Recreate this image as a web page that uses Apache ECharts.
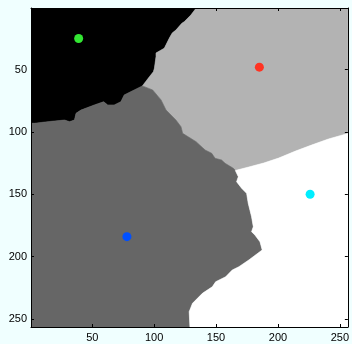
<!DOCTYPE html>
<html><head><meta charset="utf-8">
<script src="https://cdn.jsdelivr.net/npm/echarts@6/dist/echarts.min.js"></script>
<style>html,body{margin:0;padding:0;background:#f0ffff;}#c{width:352px;height:344px;}</style>
</head><body><div id="c"></div>
<script>
// Axis ticks
var xTicks = [50, 100, 150, 200, 250];
var yTicks = [50, 100, 150, 200, 250];

// Boundaries between segmented regions (image x, image y)
var blackLightBoundary = [[134,0.5],[129.7,6.1],[124.3,11.5],[122.4,12.8],[117.6,18.2],[114.6,20.6],[112.2,24.8],[108.2,32.8],[101.5,36.6],[101.5,39.6],[100.2,48.9],[99.4,51.6],[96.2,55.6],[90.5,63]];
var blackDarkBoundary = [[90.5,63],[83.9,66.3],[75.8,70.3],[73.1,75.7],[67.8,78.3],[62.4,78.3],[59.2,75.7],[51.7,78.3],[40.9,82.4],[36.9,85],[35.6,90.4],[31.6,91.7],[27.6,90.4],[14.2,91.7],[3.5,93],[0.5,93]];
var darkLightBoundary = [[90.5,63],[98.8,66.3],[105.6,74.3],[109.6,82.4],[117.6,90.4],[121.7,95.8],[123,101.1],[133.9,107.8],[141.2,114.5],[146.5,117.1],[149.2,121.1],[154.5,122.5],[157.3,125.1],[164,129.2],[165.6,130.9]];
var lightWhiteBoundary = [[165.6,130.9],[176.5,128.1],[188.6,124.9],[200.7,120.9],[214.3,115.3],[227.2,110.5],[240.9,105.6],[256.5,101.2]];
var darkWhiteBoundary = [[165.6,130.9],[168,135.9],[166.6,139.9],[170.7,145.2],[174.7,149.2],[176,157.2],[178.7,168],[180.1,176],[178.7,180],[181.4,182.7],[185.5,188.1],[187.3,194.7],[176.5,202.7],[168.5,208.1],[163.1,210.8],[157.8,216.2],[149.7,220.2],[147,224.2],[139,229.5],[131,237.5],[128.3,244.2],[128.9,256.5]];

// Seed points
var seedX = [39, 185, 226, 78];
var seedY = [25, 48, 150, 184];
var seedColors = ['#33e633', '#ff3322', '#00eeff', '#0050ff'];

var regionColors = ['#000000', '#b3b3b3', '#666666', '#ffffff'];

function rev(a){ return a.slice().reverse(); }
var polys = [
  [[0.5,0.5]].concat(blackLightBoundary, blackDarkBoundary.slice(1)),
  [[256.5,0.5]].concat(blackLightBoundary, darkLightBoundary.slice(1), lightWhiteBoundary.slice(1)),
  [[0.5,256.5]].concat(rev(blackDarkBoundary), darkLightBoundary.slice(1), darkWhiteBoundary.slice(1)),
  [[256.5,256.5]].concat(rev(darkWhiteBoundary), lightWhiteBoundary.slice(1))
];

var chart = echarts.init(document.getElementById('c'), null, {renderer:'canvas'});
var axisCommon = {
  type: 'value', min: 0.5, max: 256.5, z: 10,
  axisLine: {show: true, onZero: false, lineStyle: {color: '#000', width: 1}},
  splitLine: {show: false}
};
var lbl = {color: '#000', fontSize: 11, fontFamily: 'Liberation Sans, Arial, sans-serif'};
chart.setOption({
  backgroundColor: '#f0ffff',
  animation: false,
  grid: {left: 31, right: 2.5, top: 8, bottom: 17, containLabel: false},
  xAxis: [
    Object.assign({}, axisCommon, {position: 'bottom',
      axisTick: {show: true, inside: true, length: 3, customValues: xTicks, lineStyle: {color: '#000'}},
      axisLabel: Object.assign({}, lbl, {customValues: xTicks, margin: 5})}),
    Object.assign({}, axisCommon, {position: 'top',
      axisTick: {show: true, inside: true, length: 3, customValues: xTicks, lineStyle: {color: '#000'}},
      axisLabel: {show: false}})
  ],
  yAxis: [
    Object.assign({}, axisCommon, {position: 'left', inverse: true,
      axisTick: {show: true, inside: true, length: 3, customValues: yTicks, lineStyle: {color: '#000'}},
      axisLabel: Object.assign({}, lbl, {customValues: yTicks, margin: 4})}),
    Object.assign({}, axisCommon, {position: 'right', inverse: true,
      axisTick: {show: true, inside: true, length: 3, customValues: yTicks, lineStyle: {color: '#000'}},
      axisLabel: {show: false}})
  ],
  series: [
    {
      type: 'custom',
      xAxisIndex: 0, yAxisIndex: 0,
      clip: true,
      data: polys.map(function(p, i){ return [i]; }),
      renderItem: function(params, api){
        var idx = api.value(0);
        var pts = polys[idx].map(function(pt){ return api.coord(pt); });
        return {type: 'polygon', shape: {points: pts},
          style: {fill: regionColors[idx], stroke: regionColors[idx], lineWidth: 0.6}};
      },
      z: 1
    },
    {
      type: 'scatter',
      xAxisIndex: 0, yAxisIndex: 0,
      symbolSize: 9,
      itemStyle: {opacity: 1},
      data: seedX.map(function(x, i){ return {value: [x, seedY[i]], itemStyle: {color: seedColors[i], opacity: 1}}; }),
      z: 5
    }
  ]
});
</script></body></html>
